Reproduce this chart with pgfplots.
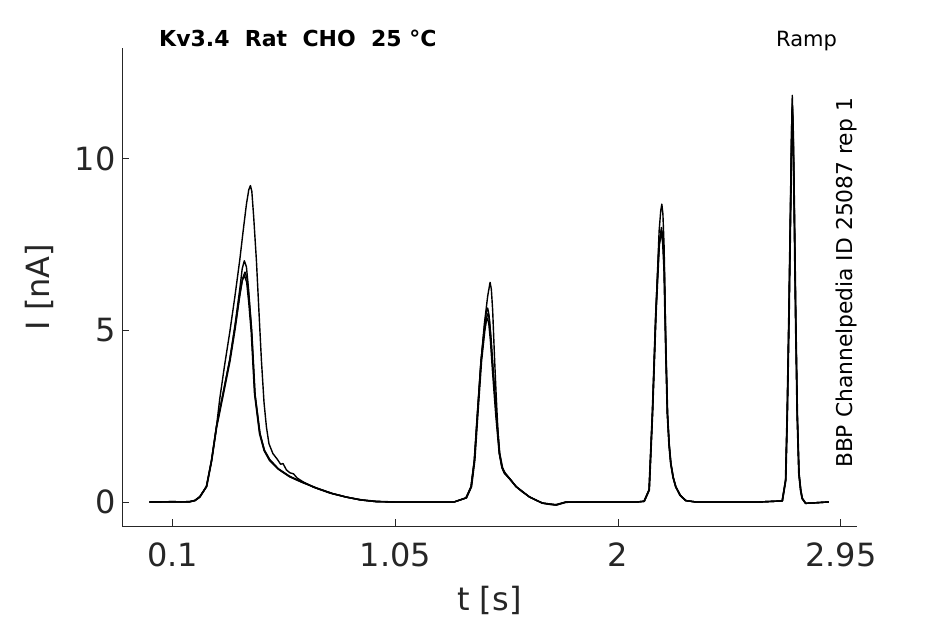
\documentclass[border=0pt]{standalone}
\usepackage{pgfplots}
\pgfplotsset{compat=1.18}
\usepackage{fontspec}
\setmainfont{DejaVu Sans}
\definecolor{axgray}{RGB}{38,38,38}
\begin{document}
\begin{tikzpicture}[x=1pt,y=1pt]
\useasboundingbox (0,0) rectangle (945,624);
\begin{axis}[
  at={(122pt,98pt)}, anchor=south west, scale only axis,
  width=734.7pt, height=478pt,
  xmin=-0.117, xmax=3.018, ymin=-0.70, ymax=13.23,
  axis x line*=bottom, axis y line*=left,
  axis line style={-, axgray, line width=0.8pt},
  xtick={0.1,1.05,2,2.95}, xticklabels={0.1,1.05,2,2.95},
  ytick={0,5,10}, yticklabels={0,5,10},
  tick align=inside, major tick length=7pt,
  tick style={axgray, line width=0.8pt},
  /pgf/number format/assume math mode=true,
  tick label style={font=\fontsize{32}{38}\selectfont, text=axgray},
  xticklabel style={yshift=-13pt},
  yticklabel style={xshift=-3pt},
  xlabel={t [s]}, ylabel={I [nA]},
  xlabel style={font=\fontsize{32}{38}\selectfont, text=axgray, at={(axis description cs:0.5,0)}, anchor=center, yshift=-74pt},
  ylabel style={font=\fontsize{32}{38}\selectfont, text=axgray, at={(axis description cs:0,0.5)}, anchor=center, yshift=83pt},
  clip=false,
  trace/.style={black, no marks, line width=1.4pt, line join=round},
]
% Trace A
\addplot[trace] coordinates {(0.000,0.00) (0.100,0.01) (0.170,0.00) (0.194,0.04) (0.215,0.14) (0.2436,0.45) (0.265,1.2) (0.2862,2.2) (0.300,3.0) (0.3200,3.95) (0.3429,4.95) (0.365,6.0) (0.3855,7.05) (0.400,7.9) (0.414,8.68) (0.424,9.1) (0.4311,9.22) (0.437,9.05) (0.445,8.3) (0.4566,7.03) (0.467,5.6) (0.4779,4.13) (0.489,2.9) (0.4992,2.19) (0.510,1.7) (0.527,1.41) (0.545,1.25) (0.560,1.10) (0.570,1.12) (0.585,0.93) (0.600,0.85) (0.615,0.82) (0.630,0.70) (0.655,0.59) (0.700,0.43) (0.769,0.26) (0.840,0.14) (0.9095,0.06) (0.970,0.02) (1.050,0.00) (1.300,0.00)
(1.3514,0.12) (1.3727,0.445) (1.3868,1.22) (1.4008,2.67) (1.4153,4.13) (1.4294,5.2) (1.4434,6.0) (1.4536,6.40) (1.459,6.2) (1.4647,5.58) (1.4720,4.3) (1.4792,3.17) (1.4862,2.2) (1.4933,1.42) (1.5040,1.02) (1.5146,0.84) (1.5400,0.66) (1.5645,0.445) (1.5900,0.30) (1.6211,0.154) (1.6500,0.05) (1.6765,-0.03) (1.7050,-0.07) (1.7349,-0.09) (1.7775,-0.01) (1.900,0.00) (2.080,0.00)
(2.1111,0.02) (2.1324,0.35) (2.1465,2.59) (2.1609,5.49) (2.1750,7.91) (2.1820,8.50) (2.1865,8.68) (2.1910,8.4) (2.1963,7.42) (2.2035,4.51) (2.2104,2.59) (2.2175,1.70) (2.2248,1.13) (2.2350,0.72) (2.2461,0.445) (2.2650,0.20) (2.2887,0.04) (2.3313,0.00) (2.6000,0.00)
(2.7004,0.03) (2.7149,0.64) (2.7217,2.59) (2.7290,5.49) (2.7362,8.87) (2.7400,10.8) (2.7430,11.85) (2.7465,11.0) (2.7502,9.36) (2.7575,5.49) (2.7643,2.59) (2.7715,0.84) (2.7790,0.35) (2.7856,0.11) (2.8000,-0.04) (2.8990,0.00)};
% Trace B
\addplot[trace] coordinates {(0,0) (0.100,0.00) (0.170,0.01) (0.194,0.05) (0.215,0.16) (0.2436,0.46) (0.265,1.22) (0.2862,2.2) (0.315,3.2) (0.3429,4.15) (0.365,5.15) (0.3855,6.2) (0.396,6.8) (0.405,7.03) (0.414,6.85) (0.423,6.2) (0.4353,5.1) (0.4494,3.2) (0.4707,2.02) (0.490,1.52) (0.5133,1.24) (0.550,0.97) (0.5985,0.75) (0.650,0.59) (0.7123,0.41) (0.780,0.25) (0.8401,0.145) (0.900,0.06) (0.968,0.01) (1.050,0.00) (1.300,0.00)
(1.3514,0.12) (1.3727,0.445) (1.3868,1.22) (1.4008,2.67) (1.4153,4.13) (1.4294,5.1) (1.4380,5.55) (1.4434,5.65) (1.4490,5.45) (1.4560,4.85) (1.4650,3.95) (1.4792,2.6) (1.4933,1.45) (1.5050,1.0) (1.5146,0.86) (1.5400,0.66) (1.5645,0.45) (1.6211,0.15) (1.6765,-0.03) (1.7349,-0.08) (1.7775,0.0) (2.080,0.00)
(2.1111,0.02) (2.1324,0.36) (2.1465,2.62) (2.1609,5.5) (2.1750,7.55) (2.1848,8.0) (2.1910,7.7) (2.1963,6.9) (2.2035,4.45) (2.2104,2.57) (2.2175,1.68) (2.2248,1.12) (2.2350,0.71) (2.2461,0.44) (2.2650,0.19) (2.2887,0.04) (2.3313,0.00) (2.6000,0.00)
(2.7004,0.03) (2.7149,0.66) (2.7217,2.62) (2.7290,5.5) (2.7362,8.8) (2.7400,10.6) (2.7430,11.6) (2.7465,10.9) (2.7502,9.3) (2.7575,5.45) (2.7643,2.55) (2.7715,0.83) (2.7790,0.34) (2.7856,0.1) (2.8000,-0.04) (2.8990,0.00)};
% Trace C
\addplot[trace] coordinates {(0,0.00) (0.100,0.01) (0.170,0.00) (0.195,0.04) (0.216,0.15) (0.2446,0.45) (0.266,1.2) (0.2872,2.18) (0.316,3.15) (0.3439,4.1) (0.366,5.05) (0.3865,6.05) (0.398,6.52) (0.4078,6.70) (0.417,6.5) (0.426,5.85) (0.4373,4.9) (0.4514,3.1) (0.4727,1.97) (0.492,1.48) (0.5153,1.2) (0.552,0.95) (0.600,0.73) (0.652,0.57) (0.714,0.40) (0.782,0.24) (0.842,0.14) (0.902,0.06) (0.970,0.01) (1.050,0.00) (1.300,0.00)
(1.3534,0.12) (1.3747,0.445) (1.3888,1.22) (1.4028,2.67) (1.4173,4.1) (1.4314,5.0) (1.4400,5.4) (1.4454,5.5) (1.4510,5.3) (1.4580,4.75) (1.4670,3.85) (1.4812,2.5) (1.4953,1.4) (1.5070,1.0) (1.5166,0.86) (1.5420,0.64) (1.5665,0.44) (1.6231,0.14) (1.6785,-0.04) (1.7369,-0.09) (1.7795,0.0) (2.080,0.00)
(2.1121,0.02) (2.1334,0.35) (2.1475,2.6) (2.1619,5.45) (2.1760,7.5) (2.1858,7.9) (2.1920,7.6) (2.1973,6.8) (2.2045,4.4) (2.2114,2.55) (2.2185,1.66) (2.2258,1.11) (2.2360,0.70) (2.2471,0.43) (2.2660,0.19) (2.2897,0.04) (2.3323,0.00) (2.6000,0.00)
(2.7014,0.03) (2.7159,0.64) (2.7227,2.6) (2.7300,5.45) (2.7372,8.7) (2.7410,10.5) (2.7440,11.5) (2.7475,10.8) (2.7512,9.2) (2.7585,5.4) (2.7653,2.52) (2.7725,0.82) (2.7800,0.33) (2.7866,0.1) (2.8010,-0.04) (2.8990,0.00)};
% Trace D
\addplot[trace] coordinates {(0,0.00) (0.100,0.00) (0.170,0.01) (0.193,0.04) (0.214,0.14) (0.2426,0.44) (0.264,1.18) (0.2852,2.17) (0.314,3.15) (0.3419,4.12) (0.364,5.05) (0.3845,6.0) (0.396,6.45) (0.4058,6.60) (0.415,6.4) (0.424,5.8) (0.4343,4.95) (0.4484,3.15) (0.4697,1.99) (0.489,1.5) (0.5123,1.21) (0.549,0.96) (0.597,0.74) (0.649,0.58) (0.711,0.41) (0.779,0.25) (0.839,0.145) (0.899,0.06) (0.967,0.01) (1.050,0.00) (1.300,0.00)
(1.3504,0.12) (1.3717,0.44) (1.3858,1.2) (1.3998,2.64) (1.4143,4.08) (1.4284,4.95) (1.4370,5.28) (1.4424,5.35) (1.4480,5.2) (1.4550,4.7) (1.4640,3.8) (1.4782,2.5) (1.4923,1.42) (1.5040,1.0) (1.5136,0.85) (1.5390,0.65) (1.5635,0.45) (1.6201,0.15) (1.6755,-0.03) (1.7339,-0.08) (1.7765,0.0) (2.080,0.00)
(2.1101,0.02) (2.1314,0.35) (2.1455,2.58) (2.1599,5.45) (2.1740,7.45) (2.1838,7.85) (2.1900,7.55) (2.1953,6.8) (2.2025,4.45) (2.2094,2.56) (2.2165,1.67) (2.2238,1.12) (2.2340,0.71) (2.2451,0.44) (2.2640,0.19) (2.2877,0.04) (2.3303,0.00) (2.6000,0.00)
(2.6994,0.03) (2.7139,0.62) (2.7207,2.57) (2.7280,5.45) (2.7352,8.7) (2.7390,10.4) (2.7420,11.45) (2.7455,10.7) (2.7492,9.2) (2.7565,5.4) (2.7633,2.55) (2.7705,0.83) (2.7780,0.34) (2.7846,0.1) (2.7990,-0.04) (2.8990,0.00)};
\end{axis}
\node[anchor=base west, font=\fontsize{22}{26}\selectfont\bfseries, inner sep=0pt] at (159,577.3) {Kv3.4\ \ Rat\ \ CHO\ \ 25\ °C};
\node[anchor=base west, font=\fontsize{21}{25}\selectfont, inner sep=0pt] at (776,577.3) {Ramp};
\node[rotate=90, anchor=base, font=\fontsize{21.8}{26}\selectfont, inner sep=0pt] at (852,341) {BBP Channelpedia ID 25087 rep 1};
\end{tikzpicture}
\end{document}
